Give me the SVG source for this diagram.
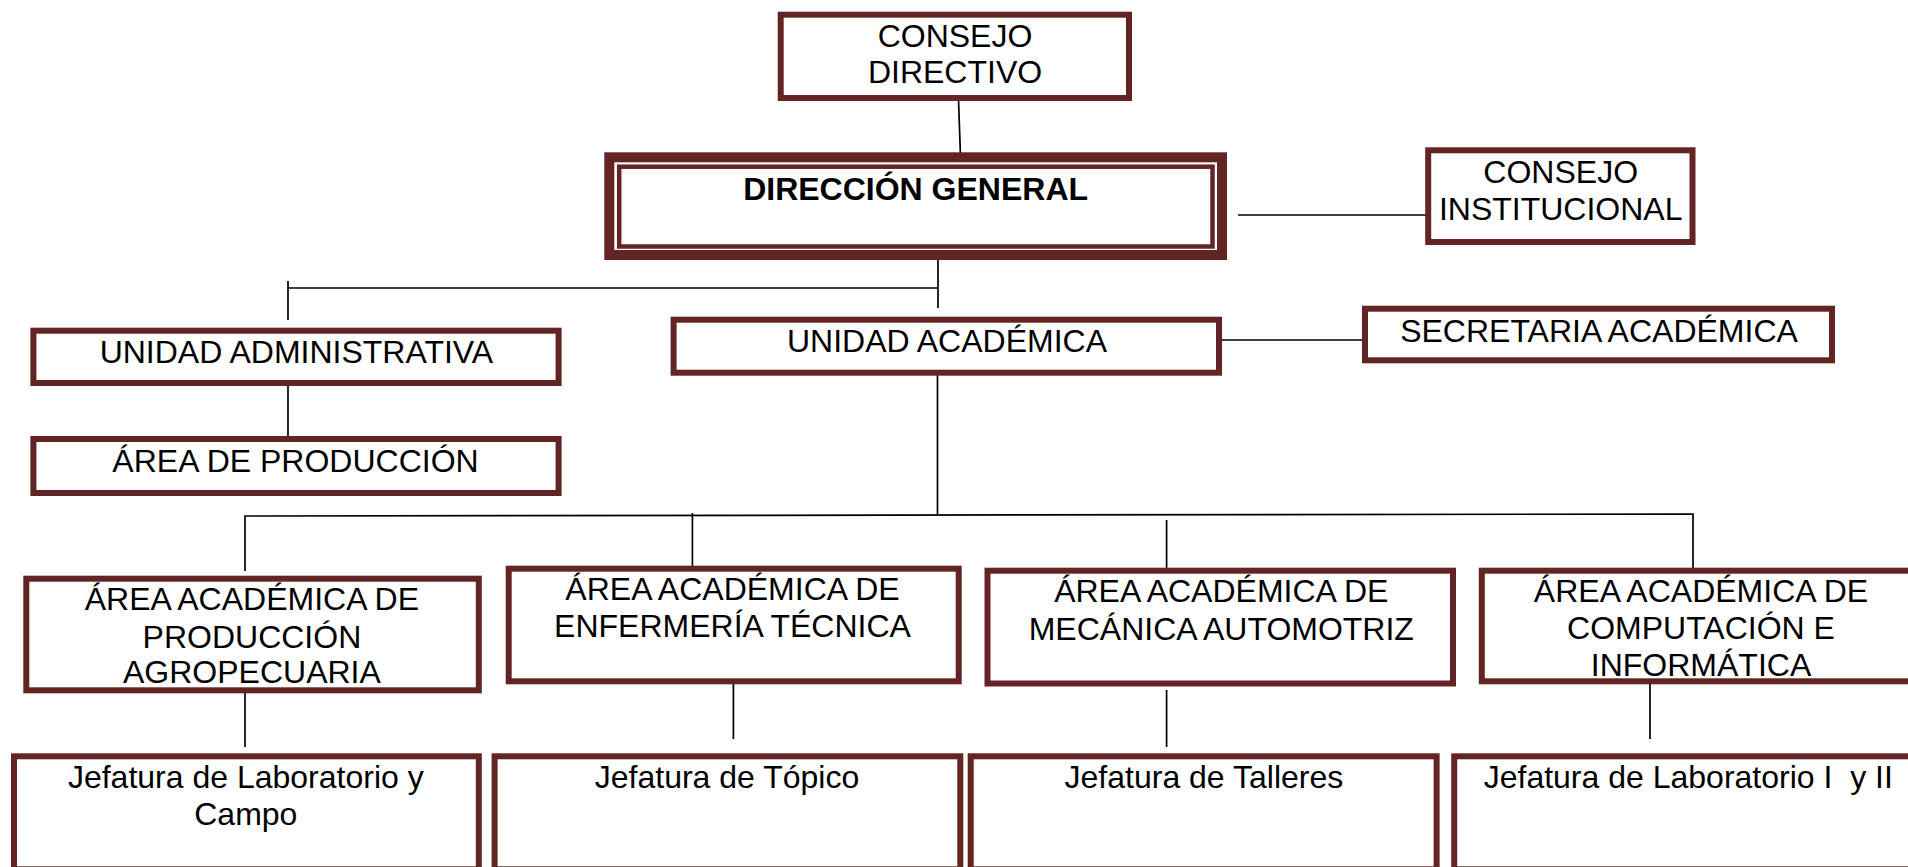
<svg xmlns="http://www.w3.org/2000/svg" width="1908" height="867" viewBox="0 0 1908 867">
<style>
  .box { fill: #ffffff; stroke: #632523; stroke-width: 6; }
  .thick { fill: #ffffff; stroke: #632523; stroke-width: 10; }
  .inner { fill: none; stroke: #632523; stroke-width: 4.5; }
  .lbl { font-family: "Liberation Sans", Arial, sans-serif; font-size: 32px; fill: #000000; text-anchor: middle; }
  .bold { font-weight: bold; }
  .start { text-anchor: start; }
  .conn line, .conn polyline { stroke: #000000; stroke-width: 1.7; fill: none; }
</style>
<rect width="1908" height="867" fill="#ffffff"/>

<g id="connectors" class="conn">
  <line x1="958.5" y1="99" x2="960.7" y2="162"/>
  <line x1="1238" y1="215" x2="1429" y2="215"/>
  <line x1="938" y1="254" x2="938" y2="308"/>
  <line x1="288" y1="288" x2="938" y2="288"/>
  <line x1="288" y1="281" x2="288" y2="320"/>
  <line x1="288" y1="383" x2="288" y2="438"/>
  <line x1="1222" y1="340" x2="1365" y2="340"/>
  <line x1="937.5" y1="373" x2="937.5" y2="515"/>
  <polyline points="245,571 245,516 1693,514 1693,568"/>
  <line x1="692.4" y1="513" x2="692.4" y2="569"/>
  <line x1="1166.6" y1="520" x2="1166.6" y2="575"/>
  <line x1="245" y1="690" x2="245" y2="747"/>
  <line x1="733.4" y1="683" x2="733.4" y2="739"/>
  <line x1="1166.6" y1="690" x2="1166.6" y2="747"/>
  <line x1="1650" y1="684" x2="1650" y2="739"/>
</g>

<g id="consejo-directivo">
  <rect class="box" x="780.7" y="14.7" width="348.3" height="83.3"/>
  <text class="lbl" x="955" y="46.7">CONSEJO</text>
  <text class="lbl" x="955" y="83.3">DIRECTIVO</text>
</g>

<g id="direccion-general">
  <rect class="thick" x="609.3" y="157.3" width="612.7" height="97.7"/>
  <rect class="inner" x="619.2" y="166.7" width="593.3" height="79.8"/>
  <text class="lbl bold" x="915.6" y="200">DIRECCIÓN GENERAL</text>
</g>

<g id="consejo-institucional">
  <rect class="box" x="1428.2" y="150.3" width="264.3" height="91.7"/>
  <text class="lbl" x="1560.7" y="183.3">CONSEJO</text>
  <text class="lbl" x="1560.7" y="220">INSTITUCIONAL</text>
</g>

<g id="secretaria-academica">
  <rect class="box" x="1365" y="308.7" width="467" height="51.6"/>
  <text class="lbl" x="1599" y="341.7">SECRETARIA ACADÉMICA</text>
</g>

<g id="unidad-administrativa">
  <rect class="box" x="33.4" y="330.7" width="525.2" height="52.3"/>
  <text class="lbl" x="296.4" y="363.3">UNIDAD ADMINISTRATIVA</text>
</g>

<g id="area-produccion">
  <rect class="box" x="33.4" y="439" width="525.2" height="54"/>
  <text class="lbl" x="295.5" y="471.7">ÁREA DE PRODUCCIÓN</text>
</g>

<g id="unidad-academica">
  <rect class="box" x="673.6" y="319.7" width="545.4" height="53"/>
  <text class="lbl" x="947" y="352.3">UNIDAD ACADÉMICA</text>
</g>

<g id="area-agropecuaria">
  <rect class="box" x="26.3" y="578.7" width="452.5" height="111.6"/>
  <text class="lbl" x="251.9" y="610">ÁREA ACADÉMICA DE</text>
  <text class="lbl" x="251.9" y="647.7">PRODUCCIÓN</text>
  <text class="lbl" x="251.9" y="683.3">AGROPECUARIA</text>
</g>

<g id="area-enfermeria">
  <rect class="box" x="508.7" y="568.7" width="450" height="112.6"/>
  <text class="lbl" x="732.5" y="600">ÁREA ACADÉMICA DE</text>
  <text class="lbl" x="732.5" y="636.7">ENFERMERÍA TÉCNICA</text>
</g>

<g id="area-mecanica">
  <rect class="box" x="987.5" y="570.7" width="465.5" height="112.8"/>
  <text class="lbl" x="1221.3" y="601.7">ÁREA ACADÉMICA DE</text>
  <text class="lbl" x="1221.3" y="640">MECÁNICA AUTOMOTRIZ</text>
</g>

<g id="area-computacion">
  <rect class="box" x="1481.8" y="570.7" width="460" height="110.6"/>
  <text class="lbl" x="1701" y="601.7">ÁREA ACADÉMICA DE</text>
  <text class="lbl" x="1701" y="639.3">COMPUTACIÓN E</text>
  <text class="lbl" x="1701" y="676">INFORMÁTICA</text>
</g>

<g id="jefatura-laboratorio-campo">
  <rect class="box" x="14" y="756.3" width="464.8" height="113"/>
  <text class="lbl" x="245.8" y="788.3">Jefatura de Laboratorio y</text>
  <text class="lbl" x="245.8" y="825">Campo</text>
</g>

<g id="jefatura-topico">
  <rect class="box" x="494.6" y="756.3" width="465.7" height="113"/>
  <text class="lbl" x="727" y="788.3">Jefatura de Tópico</text>
</g>

<g id="jefatura-talleres">
  <rect class="box" x="970.7" y="756.3" width="465.9" height="113"/>
  <text class="lbl" x="1203.9" y="788.3">Jefatura de Talleres</text>
</g>

<g id="jefatura-laboratorio-i-ii">
  <rect class="box" x="1454.2" y="756.3" width="500" height="113"/>
  <text class="lbl start" x="1483.7" y="788.3" xml:space="preserve">Jefatura de Laboratorio I  y II</text>
</g>
</svg>
